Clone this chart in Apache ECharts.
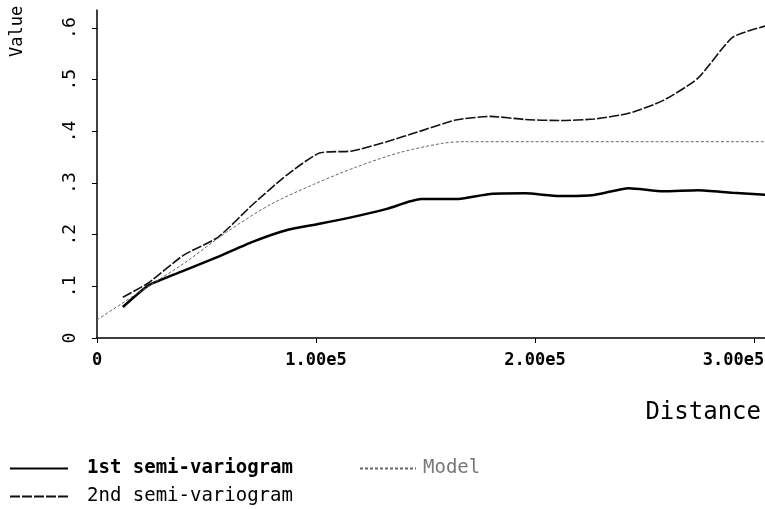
<!DOCTYPE html>
<html>
<head>
<meta charset="utf-8">
<script src="https://cdn.jsdelivr.net/npm/echarts@6/dist/echarts.min.js"></script>
<style>
  html, body { margin: 0; padding: 0; background: #fff; }
  #chart { width: 765px; height: 509px; }
</style>
</head>
<body>
<div id="chart"></div>
<script>
// distances (lag centres)
const lags = [11800, 23600, 39400, 55200, 71000, 86800, 101600, 116500, 132300, 148000,
  163800, 179600, 195400, 211200, 227000, 242800, 258600, 274400, 290200, 306000]
const firstVals = [0.060, 0.102, 0.130, 0.157, 0.186, 0.209, 0.221, 0.234, 0.250, 0.269,
  0.269, 0.279, 0.280, 0.275, 0.277, 0.290, 0.284, 0.286, 0.281, 0.277]
const secondVals = [0.079, 0.107, 0.160, 0.195, 0.258, 0.316, 0.358, 0.362, 0.380, 0.401,
  0.422, 0.429, 0.423, 0.421, 0.424, 0.435, 0.460, 0.503, 0.582, 0.605]
// model curve
const modelX = [0, 19700, 39500, 59200, 79000, 98700, 118400, 138200, 157900, 167800,
  197400, 246800, 306000]
const modelVals = [0.035, 0.090, 0.144, 0.205, 0.258, 0.297, 0.331, 0.359, 0.377, 0.380,
  0.380, 0.380, 0.380]
// last one padded (nbsp) so it stays inside the page like the original
const xTicks = ['0', '1.00e5', '2.00e5', '3.00e5\u00a0\u00a0\u00a0\u00a0']

const pairs = (xs, ys) => xs.map((x, i) => [x, ys[i]]);

(function () {
  let myChart = echarts.init(document.getElementById('chart'))
  const mono = 'DejaVu Sans Mono'
  let option = {
    animation: false,
    grid: {
      left: 97,
      right: 0,
      top: 10,
      bottom: 171,
      outerBoundsMode: 'none'
    },
    xAxis: {
      type: 'value',
      min: 0,
      max: 305000,
      interval: 100000,
      splitLine: { show: false },
      axisLine: { lineStyle: { color: '#000', width: 1.5 } },
      axisTick: { inside: false, length: 5, lineStyle: { color: '#000' } },
      axisLabel: {
        margin: 14,
        color: '#000',
        fontFamily: mono,
        fontSize: 17,
        fontWeight: 'bold',
        showMaxLabel: false,
        formatter: v => xTicks[Math.round(v / 100000)] || ''
      }
    },
    yAxis: {
      type: 'value',
      min: 0,
      max: 0.635,
      interval: 0.1,
      splitLine: { show: false },
      axisLine: { show: true, lineStyle: { color: '#000', width: 1.5 } },
      axisTick: { show: true, length: 5, lineStyle: { color: '#000' } },
      axisLabel: {
        rotate: 90,
        margin: 18,
        color: '#000',
        fontFamily: mono,
        fontSize: 18,
        showMaxLabel: false,
        formatter: v => v === 0 ? '0' : '.' + Math.round(v * 10)
      }
    },
    graphic: [
      {
        type: 'text',
        x: 9, y: 57,
        rotation: Math.PI / 2,
        style: { text: 'Value', font: '17px "DejaVu Sans Mono"', fill: '#000' }
      },
      {
        type: 'text',
        right: 4, top: 401,
        style: { text: 'Distance', font: '24px "DejaVu Sans Mono"', fill: '#000' }
      }
    ],
    legend: [
      {
        data: ['1st semi-variogram'],
        left: 4, top: 454,
        itemWidth: 58, itemHeight: 14,
        itemStyle: { opacity: 0 },
        textStyle: { fontFamily: mono, fontSize: 19, fontWeight: 'bold', color: '#000', padding: [0, 0, 0, 14] }
      },
      {
        data: ['Model'],
        left: 354, top: 454,
        itemWidth: 56, itemHeight: 14,
        itemStyle: { opacity: 0 },
        textStyle: { fontFamily: mono, fontSize: 19, color: '#777', padding: [0, 0, 0, 2] }
      },
      {
        data: ['2nd semi-variogram'],
        left: 4, top: 482,
        itemWidth: 58, itemHeight: 14,
        itemStyle: { opacity: 0 },
        textStyle: { fontFamily: mono, fontSize: 19, color: '#000', padding: [0, 0, 0, 14] }
      }
    ],
    series: [
      {
        name: '1st semi-variogram',
        type: 'line',
        symbol: 'none',
        smooth: 0.2,
        lineStyle: { color: '#000', width: 2.5 },
        itemStyle: { color: '#000' },
        data: pairs(lags, firstVals)
      },
      {
        name: '2nd semi-variogram',
        type: 'line',
        symbol: 'none',
        smooth: 0.2,
        lineStyle: { color: '#111', width: 1.6, type: [10, 2] },
        itemStyle: { color: '#111' },
        data: pairs(lags, secondVals)
      },
      {
        name: 'Model',
        type: 'line',
        symbol: 'none',
        smooth: 0.3,
        lineStyle: { color: '#666', width: 1, type: [3, 2] },
        itemStyle: { color: '#666' },
        data: pairs(modelX, modelVals)
      }
    ]
  }

  myChart.setOption(option)
})();
</script>
</body>
</html>
